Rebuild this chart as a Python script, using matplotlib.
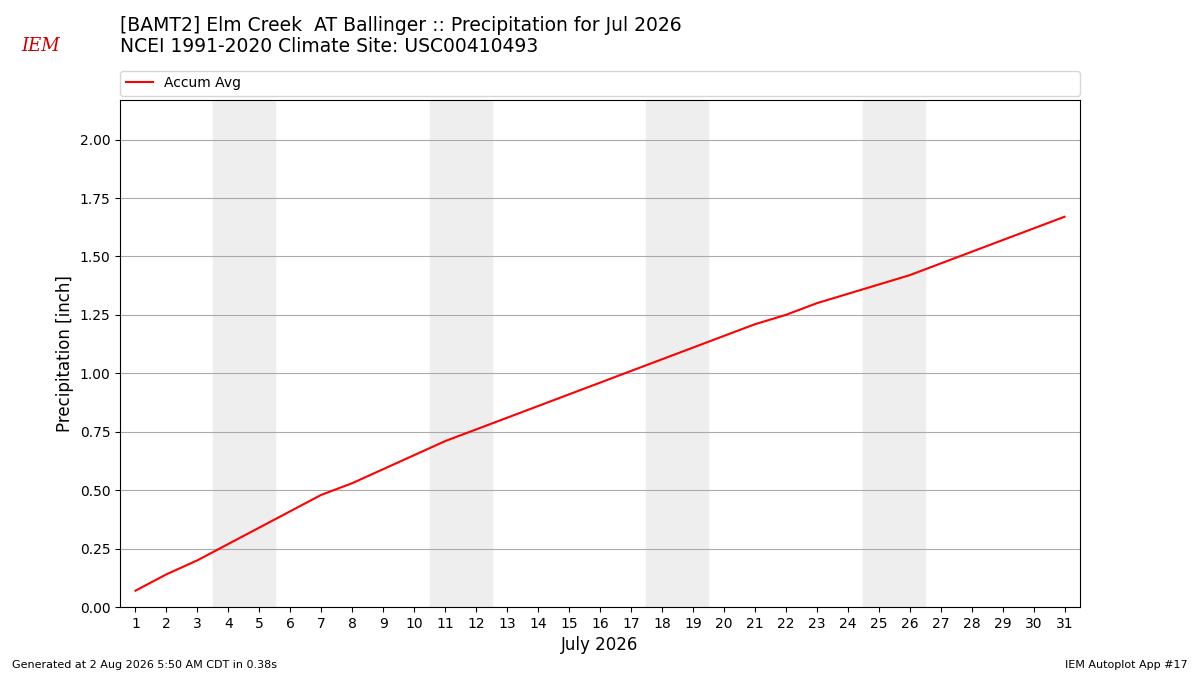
import matplotlib
matplotlib.use("Agg")
import matplotlib.pyplot as plt

days = list(range(1, 32))
accum_avg = [0.07, 0.14, 0.20, 0.27, 0.34, 0.41, 0.48, 0.53, 0.59, 0.65, 0.71, 0.76,
             0.81, 0.86, 0.91, 0.96, 1.01, 1.06, 1.11, 1.16, 1.21, 1.25, 1.30, 1.34,
             1.38, 1.42, 1.47, 1.52, 1.57, 1.62, 1.67]
weekend_starts = [4, 11, 18, 25]

fig = plt.figure(figsize=(12, 6.75), dpi=100)
ax = fig.add_axes([0.1, 0.1007, 0.8, 0.7513])
for w in weekend_starts:
    ax.axvspan(w - 0.5, w + 1.5, color="#eeeeee", zorder=0)
ax.plot(days, accum_avg, color="red", lw=1.5, label="Accum Avg", zorder=3)
ax.set_xlim(0.5, 31.5)
ax.set_ylim(0, 2.17)
ax.set_xticks(days)
yt = [0, 0.25, 0.5, 0.75, 1.0, 1.25, 1.5, 1.75, 2.0]
ax.set_yticks(yt)
ax.set_yticklabels([f"{v:.2f}" for v in yt])
ax.grid(axis="y", color="#aaaaaa", lw=0.8, zorder=1)
ax.set_axisbelow(True)
ax.set_xlabel("July 2026", fontsize=12)
ax.set_ylabel("Precipitation [inch]", fontsize=12)
ax.legend(loc="lower left", bbox_to_anchor=(0, 1.008, 1, 0.05), mode="expand",
          ncol=1, borderaxespad=0, fontsize=10)

fig.text(0.1, 0.947, "[BAMT2] Elm Creek  AT Ballinger :: Precipitation for Jul 2026\n"
         "NCEI 1991-2020 Climate Site: USC00410493", fontsize=13.5, va="center", ha="left",
         linespacing=1.15)
fig.text(0.018, 0.925, "IEM", color="#cc0000", fontsize=13, style="italic", family="DejaVu Serif")
fig.text(0.01, 0.01, "Generated at 2 Aug 2026 5:50 AM CDT in 0.38s", fontsize=8)
fig.text(0.99, 0.01, "IEM Autoplot App #17", fontsize=8, ha="right")
fig.savefig("out.png")
